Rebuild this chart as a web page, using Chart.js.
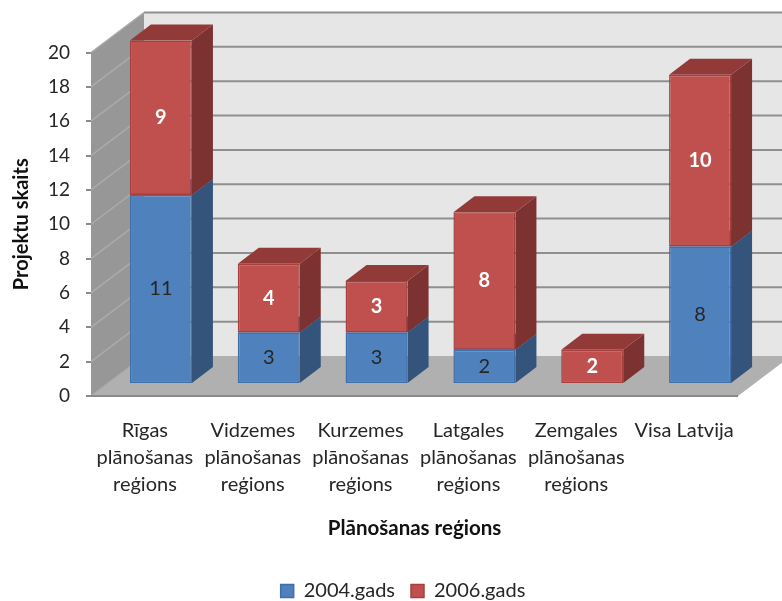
<!DOCTYPE html>
<html lang="lv">
<head>
<meta charset="utf-8">
<title>Projektu skaits</title>
<script src="https://cdn.jsdelivr.net/npm/chart.js@4"></script>
<style>
  html, body { margin: 0; padding: 0; background: #fff; }
  canvas { display: block; }
</style>
</head>
<body>
<canvas id="chart" width="782" height="601"></canvas>
<script>
const categories = [
    ['Rīgas', 'plānošanas', 'reģions'],
    ['Vidzemes', 'plānošanas', 'reģions'],
    ['Kurzemes', 'plānošanas', 'reģions'],
    ['Latgales', 'plānošanas', 'reģions'],
    ['Zemgales', 'plānošanas', 'reģions'],
    'Visa Latvija'
];
const gads2004 = [11, 3, 3, 2, 0, 8];
const gads2006 = [9, 4, 3, 8, 2, 10];
const yMax = 20;
const yStep = 2;

const FONT = 'Lato, "Open Sans", sans-serif';
const TEXT = '#262626';

// telpiskais izskats: sienas nobīde un stabiņu nobīde / dziļums
const wall = { dx: 53, dy: -40 };
const barShift = { dx: 16, dy: -12 };
const barDepth = { dx: 21, dy: -16 };
const faces = [
    { side: '#34547c', top: '#3f659a' },
    { side: '#7b3230', top: '#923a38' }
];

function poly(ctx, pts, fill) {
    ctx.beginPath();
    pts.forEach((p, i) => i ? ctx.lineTo(p[0], p[1]) : ctx.moveTo(p[0], p[1]));
    ctx.closePath();
    ctx.fillStyle = fill;
    ctx.fill();
}

function line(ctx, x1, y1, x2, y2, color, width) {
    ctx.beginPath();
    ctx.moveTo(x1, y1);
    ctx.lineTo(x2, y2);
    ctx.strokeStyle = color;
    ctx.lineWidth = width;
    ctx.stroke();
}

const walls3d = {
    id: 'walls3d',
    afterLayout(chart) {
        // leģenda attēlā nav centrēta pret visu audeklu
        chart.legend.left += 34;
        chart.legend.right += 34;
        chart.legend.top += 10;
        chart.legend.bottom += 10;
    },
    beforeDatasetsDraw(chart) {
        const { ctx, chartArea: a, scales } = chart;
        const bx = wall.dx, by = wall.dy;
        ctx.save();
        // aizmugurējā siena, grīda, kreisā siena
        poly(ctx, [[a.left + bx, a.top + by], [a.right + bx, a.top + by], [a.right + bx, a.bottom + by], [a.left + bx, a.bottom + by]], '#e6e6e6');
        poly(ctx, [[a.left, a.bottom], [a.left + bx, a.bottom + by], [a.right + bx, a.bottom + by], [a.right, a.bottom]], '#b0b0b0');
        poly(ctx, [[a.left, a.top], [a.left + bx, a.top + by], [a.left + bx, a.bottom + by], [a.left, a.bottom]], '#979797');

        scales.y.ticks.forEach(t => {
            const y = scales.y.getPixelForValue(t.value);
            if (t.value > 0) {
                line(ctx, a.left + bx, y + by, a.right + bx, y + by, '#8f8f8f', 2);
            }
            line(ctx, a.left, y, a.left + bx, y + by, '#ababab', 1.5);
        });
        line(ctx, a.left, a.bottom, a.right, a.bottom, '#8a8a8a', 2);

        // stabiņu sānu un augšējās skaldnes
        ctx.translate(barShift.dx, barShift.dy);
        const dx = barDepth.dx, dy = barDepth.dy;
        chart.getSortedVisibleDatasetMetas().forEach((meta, ds) => {
            meta.data.forEach(el => {
                if (Math.abs(el.base - el.y) < 1) return;
                const l = el.x - el.width / 2, r = el.x + el.width / 2;
                poly(ctx, [[r, el.y], [r + dx, el.y + dy], [r + dx, el.base + dy], [r, el.base]], faces[ds].side);
                poly(ctx, [[l, el.y], [l + dx, el.y + dy], [r + dx, el.y + dy], [r, el.y]], faces[ds].top);
            });
        });
        ctx.restore();
        // priekšpuses zīmē pati bibliotēka, tikai nobīdītas
        ctx.save();
        ctx.translate(barShift.dx, barShift.dy);
    },
    afterDatasetsDraw(chart) {
        const ctx = chart.ctx;
        ctx.textAlign = 'center';
        ctx.textBaseline = 'middle';
        chart.getSortedVisibleDatasetMetas().forEach((meta, ds) => {
            const vals = chart.data.datasets[meta.index].data;
            ctx.font = (ds ? 'bold ' : '') + '20px ' + FONT;
            ctx.fillStyle = ds ? '#ffffff' : TEXT;
            meta.data.forEach((el, i) => {
                if (!vals[i]) return;
                ctx.fillText(String(vals[i]), el.x, (el.y + el.base) / 2);
            });
        });
        ctx.restore();
    }
};

new Chart(document.getElementById('chart'), {
    type: 'bar',
    data: {
        labels: categories,
        datasets: [
            { label: '2004.gads', data: gads2004, backgroundColor: '#4f81bd', borderColor: '#3f6ea8', borderWidth: 1.5, borderSkipped: false, clip: false },
            { label: '2006.gads', data: gads2006, backgroundColor: '#c0504d', borderColor: '#a5403e', borderWidth: 1.5, borderSkipped: false, clip: false }
        ]
    },
    plugins: [walls3d],
    options: {
        responsive: false,
        animation: false,
        layout: { padding: { left: 0, right: 44, top: 52.5, bottom: 0 } },
        datasets: { bar: { categoryPercentage: 1, barPercentage: 0.575 } },
        scales: {
            x: {
                stacked: true,
                afterFit: s => { s.height = 159; },
                grid: { display: false },
                border: { display: false },
                ticks: {
                    autoSkip: false, maxRotation: 0, minRotation: 0, padding: 13, color: TEXT,
                    font: { family: FONT, size: 20, lineHeight: 1.35 }
                },
                title: {
                    display: true, text: 'Plānošanas reģions', color: '#111',
                    font: { family: FONT, size: 20.5, weight: 'bold' }, padding: { top: 0, bottom: 14 }
                }
            },
            y: {
                stacked: true,
                min: 0,
                max: yMax,
                afterFit: s => { s.width = 91; },
                grid: { drawOnChartArea: false, drawTicks: true, tickLength: 5, color: '#8a8a8a', lineWidth: 2 },
                border: { display: false },
                ticks: {
                    stepSize: yStep, padding: 16, color: TEXT,
                    font: { family: FONT, size: 19 }
                },
                title: {
                    display: true, text: 'Projektu skaits', color: '#111',
                    font: { family: FONT, size: 20, weight: 'bold' }, padding: { top: 10, bottom: 0 }
                }
            }
        },
        plugins: {
            tooltip: { enabled: false },
            legend: {
                position: 'bottom',
                labels: {
                    boxWidth: 13, boxHeight: 13, padding: 16, color: TEXT,
                    font: { family: FONT, size: 20 }
                }
            }
        }
    }
});
</script>
</body>
</html>
